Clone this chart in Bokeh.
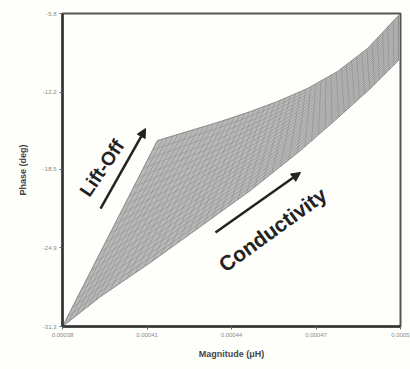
import numpy as np
from bokeh.plotting import figure
from bokeh.models import Range1d, FixedTicker, Arrow, NormalHead, Label
from bokeh.embed import file_html
from bokeh.resources import INLINE

# ---- data ----
x_ticks = [0.00038, 0.00041, 0.00044, 0.00047, 0.00050]
x_tick_labels = ["0.00038", "0.00041", "0.00044", "0.00047", "0.0005"]
y_ticks = [-31.3, -24.9, -18.5, -12.2, -5.8]
y_tick_labels = ["-31.3", "-24.9", "-18.5", "-12.2", "-5.8"]

# zero lift-off edge (lowest curve of the mesh)
lower_mag = [0.0003800, 0.0003935, 0.0004112, 0.0004290, 0.0004467,
             0.0004645, 0.0004787, 0.0004893, 0.0004993]
lower_phase = [-31.30, -28.86, -26.09, -23.15, -20.22, -16.96, -14.11, -11.91, -9.63]
# maximum lift-off edge (upper curve of the mesh)
upper_mag = [0.0004137, 0.0004244, 0.0004350, 0.0004457, 0.0004563,
             0.0004670, 0.0004776, 0.0004883, 0.0004993]
upper_phase = [-16.15, -15.41, -14.68, -13.87, -12.97, -11.91, -10.53, -8.65, -5.96]

liftoff_mm = [0.0, 0.1, 0.2, 0.3, 0.4, 0.5, 0.6, 0.7, 0.8, 0.9, 1.0, 1.1, 1.2,
              1.3, 1.4, 1.5, 1.6, 1.7, 1.8, 1.9, 2.0]
conductivity = [1, 2, 3, 4, 5, 6, 7, 8, 9, 10, 11, 12, 13, 14, 15, 16, 17, 18,
                19, 20, 21, 22, 23, 24, 25, 26, 27, 28, 29, 30, 31, 32, 33, 34,
                35, 36, 37, 38, 39, 40, 41, 42, 43, 44, 45, 46, 47, 48]

# ---- build the mesh from the edges ----
lo_m, lo_p = np.array(lower_mag), np.array(lower_phase)
up_m, up_p = np.array(upper_mag), np.array(upper_phase)
idx = np.arange(len(lo_m))
c = np.array(conductivity, float)
t = (c - c.min()) / (c.max() - c.min()) * (len(lo_m) - 1)
tt = np.linspace(0, len(lo_m) - 1, 160)
lf = np.array(liftoff_mm)
vf = (lf - lf.min()) / (lf.max() - lf.min())

def edge(ts, m, p):
    return np.interp(ts, idx, m), np.interp(ts, idx, p)

p = figure(width=410, height=369, output_backend="svg", toolbar_location=None,
           x_range=Range1d(0.00038, 0.0005), y_range=Range1d(-31.3, -5.8),
           min_border_left=62, min_border_right=10, min_border_top=13,
           min_border_bottom=43)
p.background_fill_color = "#fefefb"
p.border_fill_color = "#fefefb"
p.grid.visible = False
p.outline_line_color = "#555555"
p.outline_line_width = 2

# fill
lmx, lmy = edge(tt, lo_m, lo_p)
umx, umy = edge(tt, up_m, up_p)
p.patch(np.concatenate([lmx, umx[::-1]]), np.concatenate([lmy, umy[::-1]]),
        fill_color="#b8b8b8", line_color="#8a8a8a", line_width=0.8)

# constant lift-off curves
xs, ys = [], []
for v in vf:
    xs.append(lmx + v * (umx - lmx))
    ys.append(lmy + v * (umy - lmy))
# constant conductivity lines
a_m, a_p = edge(t, lo_m, lo_p)
b_m, b_p = edge(t, up_m, up_p)
for i in range(len(t)):
    xs.append([a_m[i], b_m[i]])
    ys.append([a_p[i], b_p[i]])
p.multi_line(xs, ys, line_color="#868686", line_width=0.55, line_alpha=0.9)

# axes
p.xaxis.ticker = FixedTicker(ticks=x_ticks)
p.yaxis.ticker = FixedTicker(ticks=y_ticks)
p.xaxis.major_label_overrides = {k: s for k, s in zip(x_ticks, x_tick_labels)}
p.yaxis.major_label_overrides = {k: s for k, s in zip(y_ticks, y_tick_labels)}
for ax in (p.xaxis[0], p.yaxis[0]):
    ax.axis_line_color = "#333333"
    ax.axis_line_width = 2.5
    ax.major_tick_line_color = "#666666"
    ax.major_tick_out = 3
    ax.major_tick_in = 0
    ax.minor_tick_line_color = None
    ax.major_label_text_font = "Liberation Sans"
    ax.major_label_text_font_size = "6px"
    ax.major_label_text_color = "#8a8a8a"
    ax.major_label_standoff = 3
    ax.axis_label_text_font = "Liberation Sans"
    ax.axis_label_text_font_size = "9px"
    ax.axis_label_text_font_style = "bold"
    ax.axis_label_text_color = "#444444"
p.xaxis.axis_label = "Magnitude (μH)"
p.yaxis.axis_label = "Phase (deg)"
p.xaxis.axis_label_standoff = 9
p.yaxis.axis_label_standoff = 12

# annotations
p.add_layout(Arrow(end=NormalHead(size=9, fill_color="#222222", line_color="#222222"),
                   x_start=0.0003935, y_start=-21.69, x_end=0.0004095, y_end=-15.17,
                   line_color="#222222", line_width=2.5))
p.add_layout(Arrow(end=NormalHead(size=9, fill_color="#222222", line_color="#222222"),
                   x_start=0.0004343, y_start=-23.64, x_end=0.0004645, y_end=-18.75,
                   line_color="#222222", line_width=2.5))
p.add_layout(Label(x=0.0003940, y=-18.4, text="Lift-Off", angle=56, angle_units="deg",
                   text_font="Liberation Sans", text_font_style="bold",
                   text_font_size="19px", text_color="#222222",
                   text_align="center", text_baseline="middle"))
p.add_layout(Label(x=0.0004546, y=-23.4, text="Conductivity", angle=36, angle_units="deg",
                   text_font="Liberation Sans", text_font_style="bold",
                   text_font_size="21px", text_color="#222222",
                   text_align="center", text_baseline="middle"))

open("out.html", "w").write(file_html(p, INLINE))
